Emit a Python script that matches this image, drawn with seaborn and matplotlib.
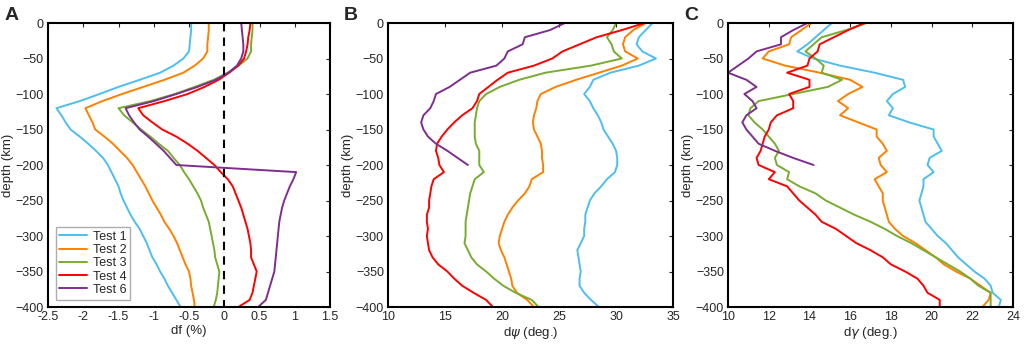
import numpy as np
import pandas as pd
import seaborn as sns
import matplotlib.pyplot as plt

depth = list(range(0, -410, -10))
depth6 = list(range(0, -210, -10))

# panel A, df (%)
df_t1 = [-0.47, -0.47, -0.48, -0.49, -0.50, -0.58, -0.72, -0.91, -1.2, -1.5, -1.77, -2.05, -2.38, -2.31, -2.25,
         -2.18, -2.05, -1.93, -1.82, -1.72, -1.65, -1.6, -1.55, -1.5, -1.47, -1.43, -1.38, -1.33, -1.27, -1.2,
         -1.15, -1.1, -1.06, -1.02, -0.96, -0.91, -0.85, -0.8, -0.74, -0.68, -0.62]
df_t2 = [-0.22, -0.22, -0.23, -0.24, -0.24, -0.3, -0.42, -0.58, -0.85, -1.15, -1.45, -1.73, -1.97, -1.92, -1.87,
         -1.83, -1.7, -1.58, -1.48, -1.38, -1.3, -1.24, -1.18, -1.12, -1.07, -1.02, -0.96, -0.9, -0.85, -0.78,
         -0.72, -0.67, -0.63, -0.59, -0.55, -0.5, -0.48, -0.47, -0.45, -0.43, -0.42]
df_t3 = [0.40, 0.40, 0.39, 0.38, 0.38, 0.33, 0.2, 0.05, -0.15, -0.42, -0.7, -1.05, -1.5, -1.42, -1.3,
         -1.18, -1.05, -0.93, -0.8, -0.72, -0.63, -0.57, -0.5, -0.44, -0.38, -0.33, -0.3, -0.26, -0.22, -0.2,
         -0.18, -0.16, -0.14, -0.13, -0.1, -0.07, -0.08, -0.09, -0.1, -0.12, -0.15]
df_t4 = [0.37, 0.36, 0.34, 0.33, 0.31, 0.28, 0.2, 0.07, -0.08, -0.28, -0.52, -0.85, -1.22, -1.15, -1.02,
         -0.88, -0.68, -0.52, -0.38, -0.26, -0.14, -0.05, 0.05, 0.12, 0.16, 0.2, 0.24, 0.27, 0.3, 0.33,
         0.35, 0.37, 0.38, 0.38, 0.42, 0.46, 0.44, 0.42, 0.4, 0.36, 0.2]
df_t6 = [0.24, 0.25, 0.26, 0.27, 0.27, 0.24, 0.18, 0.06, -0.12, -0.38, -0.68, -1.0, -1.4, -1.35, -1.28,
         -1.2, -1.08, -0.97, -0.86, -0.77, -0.68, 1.02, 0.98, 0.93, 0.89, 0.85, 0.82, 0.8, 0.78, 0.77,
         0.76, 0.75, 0.74, 0.73, 0.72, 0.71, 0.68, 0.65, 0.62, 0.59, 0.48]

# panel B, dpsi (deg.)
psi_t1 = [33.2, 32.6, 32.0, 31.8, 32.3, 33.5, 32.0, 29.5, 28.0, 27.7, 27.2, 27.7, 28.0, 28.4, 28.7,
          28.9, 29.3, 29.7, 30.0, 30.1, 30.1, 29.9, 29.2, 28.7, 28.1, 27.7, 27.5, 27.3, 27.3, 27.2,
          27.2, 26.9, 26.6, 26.7, 26.8, 26.9, 26.8, 26.8, 27.2, 27.8, 28.5]
psi_t2 = [32.6, 31.5, 30.8, 30.6, 30.8, 31.9, 30.5, 28.5, 26.5, 24.7, 23.4, 23.1, 23.0, 22.8, 22.7,
          22.8, 23.1, 23.4, 23.5, 23.5, 23.6, 23.6, 22.6, 22.4, 22.0, 21.4, 20.9, 20.5, 20.2, 20.0,
          19.8, 19.7, 19.9, 20.2, 20.4, 20.6, 20.8, 20.9, 21.3, 22.2, 22.8]
psi_t3 = [30.0, 29.7, 29.2, 29.6, 29.8, 30.5, 27.8, 23.8, 21.5, 19.8, 18.6, 18.0, 17.8, 17.7, 17.6,
          17.6, 17.6, 17.7, 18.0, 18.0, 18.0, 18.4, 17.6, 17.4, 17.2, 17.1, 17.0, 16.9, 16.8, 16.8,
          16.8, 16.7, 17.0, 17.3, 17.8, 18.6, 19.3, 20.1, 21.2, 22.6, 23.2]
psi_t4 = [32.5, 30.5, 28.3, 26.8, 25.3, 24.4, 22.8, 20.5, 19.6, 18.8, 18.0, 17.8, 17.4, 16.5, 15.8,
          15.2, 14.7, 14.3, 14.2, 14.4, 14.5, 14.9, 14.0, 13.8, 13.7, 13.6, 13.6, 13.4, 13.4, 13.5,
          13.4, 13.5, 13.6, 13.9, 14.4, 15.2, 15.8, 16.5, 17.5, 18.6, 19.2]
psi_t6 = [25.5, 24.2, 22.0, 21.8, 20.5, 20.2, 19.5, 17.2, 16.3, 15.4, 14.2, 14.0, 13.7, 13.1, 12.9,
          13.1, 13.5, 14.2, 15.2, 16.1, 17.0]

# panel C, dgamma (deg.)
gam_t1 = [15.1, 14.7, 14.3, 13.9, 13.4, 14.2, 15.5, 17.2, 18.6, 18.7, 18.1, 17.8, 18.1, 17.9, 18.9,
          20.1, 20.1, 20.3, 20.5, 19.9, 19.8, 20.1, 19.6, 19.6, 19.5, 19.4, 19.5, 19.6, 19.7, 20.0,
          20.3, 20.7, 21.0, 21.3, 21.7, 22.1, 22.6, 22.9, 23.0, 23.4, 23.3]
gam_t2 = [14.1, 13.6, 13.1, 13.0, 12.0, 11.7, 12.8, 14.5, 16.0, 16.6, 15.9, 15.4, 15.9, 15.5, 16.4,
          17.3, 17.3, 17.6, 17.8, 17.4, 17.5, 17.8, 17.2, 17.4, 17.6, 17.6, 17.7, 17.8, 17.9, 18.2,
          18.6, 19.2, 19.7, 20.2, 20.6, 21.2, 21.9, 22.4, 22.9, 22.8, 22.5]
gam_t3 = [16.8, 15.8, 14.6, 14.2, 13.8, 14.3, 14.7, 14.6, 15.6, 14.9, 13.2, 11.5, 11.1, 11.0, 11.3,
          11.7, 12.0, 12.3, 12.5, 12.3, 12.4, 13.0, 12.9, 13.5, 14.3, 14.8, 15.5, 16.2, 17.0, 17.7,
          18.3, 19.0, 19.6, 20.2, 20.8, 21.4, 21.9, 22.3, 22.9, 22.9, 22.9]
gam_t4 = [16.7, 15.9, 15.2, 14.5, 14.4, 14.0, 13.9, 12.9, 14.0, 14.0, 13.0, 13.2, 13.2, 12.4, 12.1,
          12.0, 11.8, 11.7, 11.6, 11.4, 11.5, 12.3, 12.0, 12.9, 13.2, 13.5, 13.9, 14.3, 14.6, 15.3,
          15.8, 16.3, 17.0, 17.6, 18.0, 18.7, 19.3, 19.6, 19.8, 20.4, 20.4]
gam_t6 = [13.9, 13.2, 12.6, 12.6, 11.4, 11.0, 10.5, 10.0, 10.9, 11.4, 10.8, 11.2, 11.4, 10.9, 10.7,
          10.9, 11.2, 11.5, 12.3, 13.2, 14.2]

tests = ["Test 1", "Test 2", "Test 3", "Test 4", "Test 6"]
colors = ["#4DBEEE", "#FF8000", "#77AC30", "#FF0000", "#7E2F8E"]


def long_frame(series):
    rows = []
    for name, vals in zip(tests, series):
        d = depth if len(vals) == len(depth) else depth6
        rows.append(pd.DataFrame({"val": vals, "depth": d, "test": name}))
    return pd.concat(rows, ignore_index=True)


sns.set_style("white")
plt.rcParams["font.family"] = ["Liberation Sans", "DejaVu Sans"]
plt.rcParams["font.size"] = 9

fig = plt.figure(figsize=(10.24, 3.46), dpi=100)
ax_a = fig.add_axes([0.0469, 0.1127, 0.2754, 0.8208])
ax_b = fig.add_axes([0.379, 0.1127, 0.2783, 0.8208])
ax_c = fig.add_axes([0.711, 0.1127, 0.2783, 0.8208])

panels = [
    (ax_a, [df_t1, df_t2, df_t3, df_t4, df_t6], (-2.5, 1.5), np.arange(-2.5, 1.6, 0.5), "df (%)", "A"),
    (ax_b, [psi_t1, psi_t2, psi_t3, psi_t4, psi_t6], (10, 35), np.arange(10, 36, 5), r"d$\psi$ (deg.)", "B"),
    (ax_c, [gam_t1, gam_t2, gam_t3, gam_t4, gam_t6], (10, 24), np.arange(10, 25, 2), r"d$\gamma$ (deg.)", "C"),
]

for ax, series, xlim, xticks, xlabel, tag in panels:
    data = long_frame(series)
    sns.lineplot(data=data, x="val", y="depth", hue="test", palette=colors,
                 sort=False, estimator=None, linewidth=1.4, ax=ax, legend=(tag == "A"))
    ax.set_xlim(*xlim)
    ax.set_ylim(-400, 0)
    ax.set_xticks(xticks)
    ax.set_xticklabels([f"{t:g}" for t in xticks])
    ax.set_yticks(range(-400, 1, 50))
    ax.set_xlabel(xlabel, fontsize=9.5, labelpad=1)
    ax.set_ylabel("depth (km)", fontsize=9.5, labelpad=1)
    ax.tick_params(direction="in", length=3, top=True, right=True, labelsize=9, pad=3)
    for s in ax.spines.values():
        s.set_linewidth(1.5)
        s.set_color("black")
    ax.text(-0.155, 1.055, tag, transform=ax.transAxes, fontsize=14, fontweight="bold",
            va="top", ha="left")

ax_a.plot([0, 0], [0, -400], color="black", linestyle=(0, (4, 3)), linewidth=1.5)
leg = ax_a.legend(loc="lower left", frameon=True, fontsize=9, handlelength=2.2,
                  borderaxespad=0.6, labelspacing=0.1, borderpad=0.3, handletextpad=0.5,
                  fancybox=False)
leg.set_title(None)
leg.get_frame().set_edgecolor("#999999")

fig.savefig("out.png", dpi=100)
